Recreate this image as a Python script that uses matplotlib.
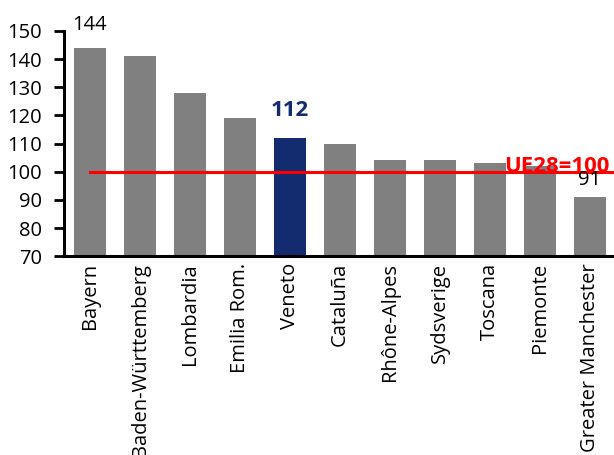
import matplotlib
matplotlib.use("Agg")
import matplotlib.pyplot as plt

plt.rcParams['font.family'] = ['Open Sans', 'DejaVu Sans']

# Data
regions = ["Bayern", "Baden-Württemberg", "Lombardia", "Emilia Rom.", "Veneto",
           "Cataluña", "Rhône-Alpes", "Sydsverige", "Toscana", "Piemonte",
           "Greater Manchester"]
values = [144, 141, 128, 119, 112, 110, 104, 104, 103, 102, 91]
eu_level = 100

gray = "#808080"
navy = "#132b6f"
colors = [navy if r == "Veneto" else gray for r in regions]

fig = plt.figure(figsize=(6.14, 4.55), dpi=100)
ax = fig.add_axes([0.104, 0.437, 0.896, 0.495])

x = list(range(len(regions)))
ax.bar(x, values, width=0.64, color=colors, zorder=2)

# EU average line
ax.plot([0, len(regions) - 0.52], [eu_level, eu_level], color="red", lw=2.2, zorder=3)
ax.text(len(regions) - 0.6, eu_level - 0.2, "UE28=100", color="red",
        fontsize=16, fontweight="bold", ha="right", va="baseline", zorder=4,
        clip_on=False)

# value labels
ax.text(0, values[0] + 4.6, str(values[0]), ha="center", va="bottom", fontsize=14.5,
        clip_on=False)
ax.text(4, values[4] + 6.0, str(values[4]), ha="center", va="bottom", fontsize=16,
        fontweight="bold", color=navy)
ax.text(10, values[10] + 2.6, str(values[10]), ha="center", va="bottom", fontsize=14.5)

ax.set_ylim(70, 150)
ax.set_xlim(-0.52, len(regions) - 0.52)
ax.set_yticks(range(70, 151, 10))
ax.set_xticks(x)
ax.set_xticklabels(regions, rotation=90, fontsize=14.5)
ax.tick_params(axis="y", labelsize=14.5, length=7, width=2, direction="out", pad=9)
ax.tick_params(axis="x", length=0, pad=5)

for s in ["top", "right"]:
    ax.spines[s].set_visible(False)
for s in ["left", "bottom"]:
    ax.spines[s].set_linewidth(2.2)

plt.savefig("out.png", dpi=100)
